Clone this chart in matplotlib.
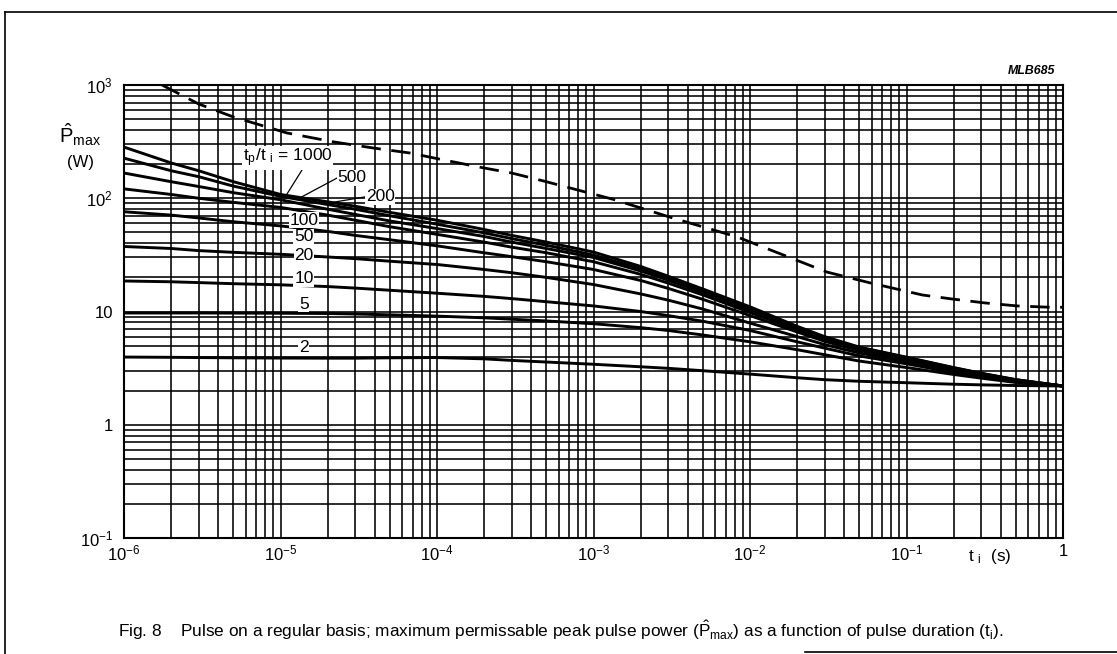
import matplotlib
matplotlib.use("Agg")
import matplotlib.pyplot as plt
from matplotlib.lines import Line2D

plt.rcParams['font.family'] = ['Liberation Sans', 'DejaVu Sans']
plt.rcParams['mathtext.fontset'] = 'custom'
plt.rcParams['mathtext.rm'] = 'Liberation Sans'
plt.rcParams['mathtext.it'] = 'Liberation Sans:italic'
plt.rcParams['mathtext.bf'] = 'Liberation Sans:bold'

# ---------------- data ----------------
t_points = [1e-6, 2e-6, 3e-6, 5e-6, 1e-5, 2e-5, 3e-5, 5e-5, 1e-4, 2e-4, 3e-4, 5e-4,
            1e-3, 2e-3, 3e-3, 5e-3, 1e-2, 2e-2, 3e-2, 5e-2, 0.1, 0.2, 0.3, 0.5, 1]
ratios = [1000, 500, 200, 100, 50, 20, 10, 5, 2]
p_1000 = [283, 205, 175, 140, 108, 93, 85, 75, 64, 53, 47, 41,
          33.5, 25, 20.5, 15.8, 11.0, 7.4, 6.0, 4.85, 3.95, 3.2, 2.85, 2.5, 2.2]
p_500 = [226, 175, 155, 128, 104, 88, 80, 70, 59, 49.5, 44, 38.5,
         31.5, 23.8, 19.6, 15.2, 10.7, 7.25, 5.9, 4.8, 3.92, 3.18, 2.84, 2.5, 2.2]
p_200 = [167, 140, 127, 112, 97, 80, 72, 63, 54, 46, 41, 36,
         30, 22.8, 18.9, 14.7, 10.3, 7.1, 5.8, 4.75, 3.88, 3.15, 2.82, 2.48, 2.2]
p_100 = [121, 108, 100, 92, 83, 71, 64, 56, 48, 41, 37, 33,
         27.5, 21.3, 17.8, 14, 9.8, 6.9, 5.65, 4.65, 3.82, 3.1, 2.79, 2.46, 2.2]
p_50 = [76, 71, 67, 62, 57, 51, 47, 43, 38, 33, 30.5, 27.5,
        23.5, 18.8, 16, 12.8, 9.2, 6.6, 5.45, 4.52, 3.74, 3.05, 2.76, 2.44, 2.2]
p_20 = [37.5, 36, 34.5, 33.3, 32, 30.3, 29.3, 27.8, 26, 23.5, 22, 20,
        17.3, 14.3, 12.6, 10.5, 7.9, 6.0, 5.1, 4.3, 3.6, 2.98, 2.72, 2.42, 2.2]
p_10 = [18.6, 18.3, 18.0, 17.6, 17.2, 16.6, 16.1, 15.4, 14.5, 13.6, 13, 12.2,
        11.2, 10, 9.2, 8.2, 6.8, 5.4, 4.75, 4.05, 3.45, 2.9, 2.66, 2.4, 2.2]
p_5 = [9.7, 9.7, 9.7, 9.68, 9.65, 9.6, 9.5, 9.35, 9.1, 8.8, 8.55, 8.25,
       7.8, 7.2, 6.8, 6.2, 5.4, 4.6, 4.15, 3.65, 3.2, 2.78, 2.58, 2.36, 2.2]
p_2 = [3.96, 3.94, 3.92, 3.9, 3.88, 3.87, 3.87, 3.9, 3.92, 3.82, 3.7, 3.58,
       3.42, 3.25, 3.15, 3.0, 2.8, 2.6, 2.5, 2.42, 2.35, 2.28, 2.25, 2.22, 2.2]

t_single = [1.75e-6, 3e-6, 5e-6, 1.1e-5, 2.2e-5, 3.9e-5, 6.7e-5, 1.1e-4, 2e-4, 3e-4,
            4.8e-4, 1.33e-3, 3.2e-3, 8.3e-3, 3.1e-2, 5.85e-2, 0.126, 0.195, 0.318,
            0.508, 0.826, 1]
p_single = [1000, 680, 522, 377, 314, 278, 251, 218, 185, 167,
            142, 98, 67, 45.5, 22.3, 17.9, 14.0, 12.9, 11.9,
            11.2, 10.9, 10.9]

x_ticks = [1e-6, 1e-5, 1e-4, 1e-3, 1e-2, 1e-1, 1]
x_ticklabels = [r'$10^{-6}$', r'$10^{-5}$', r'$10^{-4}$', r'$10^{-3}$', r'$10^{-2}$', r'$10^{-1}$', '1']
y_ticks = [0.1, 1, 10, 100, 1000]
y_ticklabels = [r'$10^{-1}$', '1', '10', r'$10^{2}$', r'$10^{3}$']

series = [p_1000, p_500, p_200, p_100, p_50, p_20, p_10, p_5, p_2]

# ---------------- figure ----------------
W, H = 1117, 654
fig = plt.figure(figsize=(W / 100, H / 100), dpi=100)
ax = fig.add_axes([124 / W, 1 - 538 / H, (1063 - 124) / W, (538 - 85) / H])
ax.set_xscale('log')
ax.set_yscale('log')
ax.set_xlim(1e-6, 1)
ax.set_ylim(0.1, 1000)

ax.grid(True, which='both', color='black', linewidth=1.15)
ax.set_axisbelow(True)
for s in ax.spines.values():
    s.set_linewidth(1.5)
    s.set_color('black')

ax.set_xticks(x_ticks)
ax.set_xticklabels(x_ticklabels, fontsize=12)
ax.set_yticks(y_ticks)
ax.set_yticklabels(y_ticklabels, fontsize=12)
ax.tick_params(which='both', length=0)
ax.tick_params(axis='x', pad=4)
ax.tick_params(axis='y', pad=8)

for vals in series:
    ax.plot(t_points, vals, color='black', linewidth=2.1, solid_capstyle='butt',
            solid_joinstyle='round', zorder=3)

ax.plot(t_single, p_single, color='black', linewidth=2.0, linestyle=(0, (7, 3.8)),
        zorder=3)

# curve labels
lab_kw = dict(fontsize=12.5, color='black', zorder=5,
              bbox=dict(facecolor='white', edgecolor='none', pad=0.5))
ax.text(5.75e-6, 226, r't$_{\rm p}$/t $_{\rm i}$ = 1000', ha='left', va='center', **lab_kw)
ax.text(2.87e-5, 151, '500', ha='center', va='center', **lab_kw)
ax.text(4.33e-5, 103, '200', ha='center', va='center', **lab_kw)
lbl_x = 1.41e-5
for txt, yv in [('100', 64), ('50', 45.5), ('20', 31.5), ('10', 19.4), ('5', 11.6), ('2', 4.77)]:
    ax.text(lbl_x, yv, txt, ha='center', va='center', **lab_kw)

# leader lines
ax.plot([1.37e-5, 1.10e-5], [177, 109], color='black', linewidth=0.9, zorder=4)
ax.plot([2.30e-5, 1.37e-5], [151, 103], color='black', linewidth=0.9, zorder=4)
ax.plot([3.5e-5, 1.87e-5], [103, 89], color='black', linewidth=0.9, zorder=4)

# axis labels
fig.text(59 / W, 1 - 135 / H, r'$\hat{\rm P}_{\rm max}$', fontsize=14.5, ha='left', va='center')
fig.text(80 / W, 1 - 163 / H, '(W)', fontsize=12, ha='center', va='center')
fig.text(968 / W, 1 - 556 / H, r't $_{\rm i}$  (s)', fontsize=12.3, ha='left', va='center')

# figure code
fig.text(1055 / W, 1 - 71 / H, 'MLB685', fontsize=8.9, fontweight='bold', style='italic',
         ha='right', va='center')

# caption
fig.text(118 / W, 1 - 630 / H,
         r'Fig. 8    Pulse on a regular basis; maximum permissable peak pulse power ($\hat{\rm P}_{\rm max}$) as a function of pulse duration (t$_{\rm i}$).',
         fontsize=12.4, ha='left', va='center')

# frame lines
fig.add_artist(Line2D([5 / W, 5 / W], [1 - 12 / H, 0], transform=fig.transFigure, color='black', lw=1.2))
fig.add_artist(Line2D([5 / W, 1], [1 - 12 / H, 1 - 12 / H], transform=fig.transFigure, color='black', lw=1.2))
fig.add_artist(Line2D([805 / W, 1], [1 - 652 / H, 1 - 652 / H], transform=fig.transFigure, color='black', lw=1.2))

fig.savefig('out.png', dpi=100, facecolor='white')
